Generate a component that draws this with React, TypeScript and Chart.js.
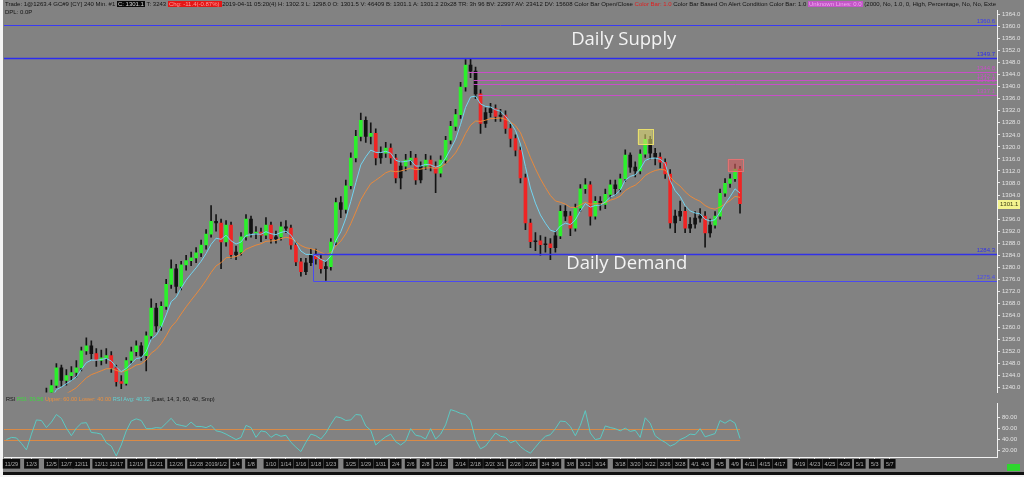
import React, { useEffect, useRef } from "react";
import { Chart, registerables } from "chart.js";

Chart.register(...registerables);

// ---------- data (240 min bars, one value per slot) ----------
const closes = [
  1233.0, 1231.5, 1232.4, 1230.8, 1233.2, 1235.1, 1232.9, 1234.6, 1237.5, 1240.7,
  1246.6, 1242.4, 1244.0, 1245.0, 1246.6, 1252.2, 1253.9, 1251.3, 1249.0, 1249.9,
  1250.6, 1246.6, 1242.0, 1241.4, 1249.0, 1251.9, 1253.9, 1250.6, 1257.2, 1266.4,
  1260.5, 1267.0, 1274.3, 1279.5, 1273.6, 1280.8, 1282.2, 1283.1, 1284.8, 1287.4,
  1291.0, 1295.3, 1294.7, 1288.4, 1294.0, 1284.2, 1285.0, 1290.1, 1296.0, 1291.4,
  1291.7, 1290.7, 1294.0, 1289.4, 1290.1, 1293.4, 1293.0, 1287.4, 1281.8, 1278.5,
  1281.5, 1284.2, 1282.8, 1279.5, 1280.2, 1288.4, 1301.5, 1299.2, 1307.1, 1316.3,
  1323.5, 1328.8, 1323.5, 1324.5, 1316.3, 1317.9, 1319.6, 1316.3, 1309.7, 1313.6,
  1315.6, 1316.3, 1309.0, 1313.6, 1315.6, 1313.6, 1311.3, 1315.6, 1322.2, 1326.8,
  1330.7, 1339.9, 1347.2, 1345.2, 1337.6, 1327.8, 1331.4, 1332.7, 1330.1, 1330.6,
  1326.1, 1322.8, 1318.9, 1309.7, 1294.7, 1288.5, 1288.8, 1287.5, 1287.8, 1286.5,
  1290.4, 1298.6, 1297.0, 1293.0, 1299.6, 1306.1, 1307.4, 1297.0, 1301.9, 1300.9,
  1304.2, 1307.4, 1306.1, 1309.4, 1317.3, 1313.3, 1312.0, 1317.6, 1322.5, 1317.9,
  1316.6, 1314.9, 1311.0, 1294.7, 1297.0, 1298.6, 1293.0, 1294.3, 1296.3, 1297.0,
  1291.4, 1294.0, 1297.0, 1304.6, 1307.9, 1309.4, 1312.6, 1301.1,
];

const highs = [
  1235.0, 1234.0, 1234.0, 1233.5, 1234.8, 1236.5, 1236.0, 1236.2, 1239.8, 1242.5,
  1248.0, 1247.5, 1246.0, 1247.0, 1249.0, 1253.5, 1256.5, 1255.5, 1253.0, 1252.5,
  1253.0, 1252.0, 1247.5, 1244.0, 1250.0, 1253.5, 1255.5, 1255.0, 1258.5, 1269.5,
  1268.0, 1268.5, 1276.0, 1282.5, 1281.0, 1282.0, 1284.0, 1285.0, 1286.5, 1289.0,
  1292.5, 1300.5, 1297.5, 1296.0, 1295.5, 1295.0, 1287.0, 1291.5, 1297.5, 1297.0,
  1293.5, 1293.0, 1296.5, 1295.0, 1292.0, 1295.0, 1295.5, 1294.0, 1288.5, 1283.0,
  1283.0, 1286.0, 1286.0, 1284.0, 1282.0, 1289.5, 1303.0, 1303.5, 1309.0, 1318.0,
  1325.5, 1331.2, 1330.0, 1328.0, 1326.0, 1320.0, 1321.5, 1321.0, 1317.5, 1315.0,
  1317.5, 1318.5, 1317.5, 1315.0, 1317.5, 1317.0, 1315.0, 1317.0, 1323.5, 1328.5,
  1332.5, 1341.5, 1349.0, 1349.2, 1346.5, 1339.0, 1333.0, 1334.5, 1334.0, 1332.5,
  1332.0, 1327.5, 1324.0, 1320.0, 1311.0, 1296.0, 1291.5, 1290.5, 1290.0, 1289.5,
  1292.0, 1300.5, 1300.5, 1298.5, 1301.0, 1307.5, 1309.5, 1308.5, 1303.5, 1303.5,
  1306.0, 1309.0, 1309.0, 1311.0, 1319.0, 1318.0, 1315.0, 1319.0, 1324.1, 1323.5,
  1319.5, 1318.0, 1316.0, 1312.5, 1299.0, 1302.0, 1300.0, 1296.5, 1298.5, 1299.5,
  1298.5, 1296.0, 1298.5, 1306.0, 1309.5, 1311.0, 1314.3, 1313.5,
];

const lows = [
  1231.0, 1229.8, 1230.5, 1229.0, 1230.0, 1232.5, 1231.8, 1232.0, 1233.8, 1236.5,
  1240.0, 1240.5, 1240.8, 1242.5, 1243.5, 1245.5, 1251.0, 1249.5, 1247.0, 1247.5,
  1248.0, 1245.0, 1240.5, 1239.6, 1240.8, 1248.0, 1250.5, 1249.0, 1245.5, 1256.0,
  1258.5, 1259.0, 1266.0, 1273.0, 1271.5, 1272.5, 1279.0, 1280.5, 1281.5, 1283.5,
  1286.0, 1290.0, 1292.0, 1279.5, 1287.0, 1283.0, 1282.5, 1284.0, 1289.0, 1290.0,
  1289.5, 1288.5, 1289.5, 1288.0, 1288.0, 1289.0, 1291.5, 1286.0, 1280.5, 1277.0,
  1277.5, 1280.5, 1281.0, 1278.0, 1275.6, 1279.0, 1287.5, 1296.5, 1298.0, 1306.0,
  1315.0, 1322.0, 1321.5, 1321.0, 1314.0, 1314.5, 1316.5, 1314.5, 1308.0, 1306.0,
  1312.0, 1314.0, 1307.5, 1308.0, 1312.5, 1312.0, 1304.8, 1310.0, 1314.5, 1321.0,
  1325.5, 1329.5, 1338.5, 1343.0, 1336.0, 1324.5, 1326.5, 1330.0, 1328.5, 1328.5,
  1324.5, 1320.0, 1317.0, 1308.0, 1292.5, 1286.5, 1285.5, 1284.0, 1285.0, 1282.5,
  1285.0, 1289.5, 1295.5, 1290.5, 1292.0, 1298.5, 1304.5, 1294.0, 1296.0, 1299.0,
  1299.5, 1303.0, 1304.0, 1305.0, 1308.5, 1311.5, 1310.0, 1311.0, 1316.5, 1316.0,
  1314.0, 1313.0, 1309.5, 1293.0, 1291.5, 1295.5, 1291.5, 1291.5, 1293.0, 1295.0,
  1286.7, 1290.0, 1293.0, 1296.0, 1303.5, 1306.5, 1308.5, 1298.0,
];

const rsiValues = [
  40, 44, 43, 33, 21, 50, 76, 75, 62, 72,
  86, 79, 61, 47, 61, 70, 71, 53, 52, 50,
  34, 28, 10, 30, 56, 74, 78, 75, 60, 60,
  62, 61, 70, 79, 68, 66, 64, 72, 64, 64,
  62, 66, 56, 54, 50, 45, 40, 44, 66, 62,
  44, 56, 54, 44, 50, 46, 48, 35, 26, 18,
  35, 50, 47, 41, 52, 68, 82, 80, 75, 76,
  86, 85, 65, 57, 30, 38, 45, 50, 36, 30,
  37, 60, 48, 46, 41, 60, 41, 50, 67, 95,
  92, 88, 86, 75, 40, 23, 28, 40, 52, 46,
  44, 34, 38, 27, 20, 15, 26, 37, 46, 49,
  60, 74, 73, 64, 47, 66, 93, 52, 40, 42,
  65, 62, 60, 56, 61, 55, 57, 44, 80, 70,
  47, 40, 35, 28, 32, 40, 44, 50, 49, 60,
  45, 48, 51, 75, 70, 76, 70, 42,
];

const dateLabels = [
  "11/29", "12/3", "12/5", "12/7", "12/11", "12/13", "12/17", "12/19", "12/21", "12/26",
  "12/28", "2019/1/2", "1/4", "1/8", "1/10", "1/14", "1/16", "1/18", "1/23", "1/25",
  "1/29", "1/31", "2/4", "2/6", "2/8", "2/12", "2/14", "2/18", "2/20", "3/1",
  "2/26", "2/28", "3/4", "3/6", "3/8", "3/12", "3/14", "3/18", "3/20", "3/22",
  "3/26", "3/28", "4/1", "4/3", "4/5", "4/9", "4/11", "4/15", "4/17", "4/19",
  "4/23", "4/25", "4/29", "5/1", "5/3", "5/7",
];
const dateSlots = [
  1, 5, 9, 12, 15, 19, 22, 26, 30, 34,
  38, 42, 46, 49, 53, 56, 59, 62, 65, 69,
  72, 75, 78, 81, 84, 87, 91, 94, 97, 99,
  102, 105, 108, 110, 113, 116, 119, 123, 126, 129,
  132, 135, 138, 140, 143, 146, 149, 152, 155, 159,
  162, 165, 168, 171, 174, 177,
];
const slotCount = 199;

const priceTicks = [
  1240, 1244, 1248, 1252, 1256, 1260, 1264, 1268, 1272, 1276, 1280, 1284, 1288, 1292, 1296, 1300,
  1304, 1308, 1312, 1316, 1320, 1324, 1328, 1332, 1336, 1340, 1344, 1348, 1352, 1356, 1360, 1364,
];
const rsiTicks = [20, 40, 60, 80];
const rsiBands = [60, 40];

// horizontal zone lines
const zonePrices = [1360.6, 1349.7, 1344.8, 1342.1, 1341.0, 1337.1, 1284.3, 1275.4];
const zoneStartBars = [0, 0, 93, 94, 94, 95, 62, 62];
const zoneKinds = ["supply", "supplyMain", "pivot", "pivot", "pivot", "pivot", "demandMain", "demand"];

// alert boxes
const alertStartBars = [127, 145];
const alertEndBars = [129, 147];
const alertTops = [1325.8, 1316.0];
const alertBottoms = [1320.9, 1312.0];
const alertKinds = ["high", "sell"];

// text annotations
const noteTexts = ["Daily Supply", "Daily Demand"];
const noteBars = [123.7, 124.3];
const notePrices = [1355.6, 1281.1];

const SMALL_FONT = '"Liberation Sans", Arial, sans-serif';
const BG = "#828282";

const zoneColors: Record<string, string> = {
  supply: "#3a3af4",
  supplyMain: "#2c2cf0",
  pivot: "#c84ec8",
  demandMain: "#3232e8",
  demand: "#4a4af0",
};
const zoneWidths: Record<string, number> = {
  supply: 1,
  supplyMain: 1.6,
  pivot: 1,
  demandMain: 1.4,
  demand: 1,
};
const alertFill: Record<string, string> = {
  high: "rgba(232,226,110,0.55)",
  sell: "rgba(214,92,92,0.6)",
};
const alertStroke: Record<string, string> = {
  high: "#e8de6c",
  sell: "#e27272",
};

function ema(values: number[], n: number): number[] {
  const k = 2 / (n + 1);
  const out: number[] = [];
  let prev = values[0];
  values.forEach((v, i) => {
    prev = i === 0 ? v : v * k + prev * (1 - k);
    out.push(prev);
  });
  return out;
}

export default function App() {
  const priceRef = useRef<HTMLCanvasElement>(null);
  const rsiRef = useRef<HTMLCanvasElement>(null);

  useEffect(() => {
    document.body.style.margin = "0";
    const slotLabels = Array.from({ length: slotCount }, (_, i) => {
      const k = dateSlots.indexOf(i);
      return k >= 0 ? dateLabels[k] : "";
    });
    const opens = closes.map((c, i) => (i === 0 ? c : closes[i - 1]));
    const fast = ema(closes, 6);
    const slow = ema(closes, 14);
    const bodyColors = closes.map((c, i) =>
      c > opens[i] && c >= fast[i] ? "#2cf02c" : c < opens[i] && c < fast[i] ? "#f02424" : "#121212"
    );
    const lastClose = closes[closes.length - 1];

    const priceOverlay = {
      id: "priceOverlay",
      afterDatasetsDraw(chart: any) {
        const { ctx, chartArea: a } = chart;
        const x = chart.scales.x;
        const y = chart.scales.y;
        const half = (x.getPixelForValue(1) - x.getPixelForValue(0)) / 2;
        ctx.save();
        ctx.lineWidth = 1;
        // alert boxes
        alertStartBars.forEach((s, k) => {
          const x0 = x.getPixelForValue(s) - half;
          const x1 = x.getPixelForValue(alertEndBars[k]) + half;
          const y0 = y.getPixelForValue(alertTops[k]);
          const y1 = y.getPixelForValue(alertBottoms[k]);
          ctx.fillStyle = alertFill[alertKinds[k]];
          ctx.fillRect(x0, y0, x1 - x0, y1 - y0);
          ctx.strokeStyle = alertStroke[alertKinds[k]];
          ctx.strokeRect(Math.round(x0) + 0.5, Math.round(y0) + 0.5, Math.round(x1 - x0), Math.round(y1 - y0));
        });
        // zone lines
        ctx.font = `6px ${SMALL_FONT}`;
        ctx.textAlign = "right";
        ctx.textBaseline = "bottom";
        const demandYs: number[] = [];
        let demandX = 0;
        zonePrices.forEach((p, k) => {
          const kind = zoneKinds[k];
          const py = Math.round(y.getPixelForValue(p)) + 0.5;
          const x0 = zoneStartBars[k] === 0 ? a.left : Math.round(x.getPixelForValue(zoneStartBars[k]) - half) + 0.5;
          const col = zoneColors[kind];
          ctx.strokeStyle = col;
          ctx.lineWidth = zoneWidths[kind];
          ctx.beginPath();
          ctx.moveTo(x0, py);
          ctx.lineTo(a.right, py);
          ctx.stroke();
          ctx.fillStyle = col;
          ctx.fillText(p.toFixed(1), a.right - 2, py - 1.5);
          if (kind.startsWith("demand")) {
            demandYs.push(py);
            demandX = x0;
          }
        });
        if (demandYs.length === 2) {
          ctx.strokeStyle = zoneColors.demand;
          ctx.lineWidth = 1;
          ctx.beginPath();
          ctx.moveTo(demandX, demandYs[0]);
          ctx.lineTo(demandX, demandYs[1]);
          ctx.stroke();
        }
        // notes
        ctx.font = '18.5px "Open Sans", "Noto Sans", sans-serif';
        ctx.fillStyle = "#f3f3f3";
        ctx.textAlign = "center";
        ctx.textBaseline = "middle";
        noteTexts.forEach((t, k) => {
          ctx.fillText(t, x.getPixelForValue(noteBars[k]), y.getPixelForValue(notePrices[k]));
        });
        ctx.restore();
      },
      afterDraw(chart: any) {
        const { ctx, chartArea: a } = chart;
        const y = chart.scales.y;
        const py = y.getPixelForValue(lastClose);
        ctx.save();
        ctx.fillStyle = "#f4f48e";
        ctx.fillRect(a.right + 1, Math.round(py) - 4, 22, 9);
        ctx.fillStyle = "#3a3a14";
        ctx.font = `6px ${SMALL_FONT}`;
        ctx.textAlign = "left";
        ctx.textBaseline = "middle";
        ctx.fillText(lastClose.toFixed(1), a.right + 3, Math.round(py) + 0.5);
        ctx.restore();
      },
    };

    const priceChart = new Chart(priceRef.current as HTMLCanvasElement, {
      type: "bar",
      data: {
        labels: slotLabels,
        datasets: [
          {
            type: "line",
            data: fast,
            borderColor: "#72d4f0",
            borderWidth: 1,
            pointRadius: 0,
            order: 0,
          } as any,
          {
            type: "line",
            data: slow,
            borderColor: "#e8893c",
            borderWidth: 1,
            pointRadius: 0,
            order: 1,
          } as any,
          {
            type: "bar",
            data: closes.map((c, i) => [opens[i], c]),
            backgroundColor: bodyColors,
            barThickness: 3,
            grouped: false,
            borderWidth: 0,
            order: 2,
          } as any,
          {
            type: "bar",
            data: highs.map((h, i) => [lows[i], h]),
            backgroundColor: "#141414",
            barThickness: 1,
            grouped: false,
            borderWidth: 0,
            order: 3,
          } as any,
        ],
      },
      options: {
        animation: false,
        responsive: false,
        maintainAspectRatio: false,
        devicePixelRatio: 1,
        events: [],
        layout: { padding: { left: 4, top: 10, right: 0, bottom: 1 } },
        plugins: { legend: { display: false }, tooltip: { enabled: false } },
        scales: {
          x: { type: "category", offset: true, display: false },
          y: {
            position: "right",
            min: 1238.4,
            max: 1365.5,
            afterFit: (s: any) => {
              s.width = 27;
            },
            afterBuildTicks: (s: any) => {
              s.ticks = priceTicks.map((v) => ({ value: v }));
            },
            ticks: {
              autoSkip: false,
              color: "#e4e4e4",
              padding: 2,
              font: { family: SMALL_FONT, size: 6 },
              callback: (v: any) => Number(v).toFixed(1),
            },
            grid: { drawOnChartArea: false, color: "#e8e8e8", tickLength: 3 },
            border: { color: "#f2f2f2", width: 1 },
          },
        },
      } as any,
      plugins: [priceOverlay],
    });

    const rsiOverlay = {
      id: "rsiOverlay",
      beforeDatasetsDraw(chart: any) {
        const { ctx, chartArea: a } = chart;
        const x = chart.scales.x;
        const y = chart.scales.y;
        const xEnd = x.getPixelForValue(rsiValues.length - 1);
        ctx.save();
        ctx.strokeStyle = "#d98a46";
        ctx.lineWidth = 1;
        rsiBands.forEach((v) => {
          const py = Math.round(y.getPixelForValue(v)) + 0.5;
          ctx.beginPath();
          ctx.moveTo(a.left, py);
          ctx.lineTo(xEnd, py);
          ctx.stroke();
        });
        ctx.restore();
      },
    };

    const rsiChart = new Chart(rsiRef.current as HTMLCanvasElement, {
      type: "line",
      data: {
        labels: slotLabels,
        datasets: [
          {
            data: rsiValues,
            borderColor: "#5cc9c2",
            borderWidth: 1,
            pointRadius: 0,
          },
        ],
      },
      options: {
        animation: false,
        responsive: false,
        maintainAspectRatio: false,
        devicePixelRatio: 1,
        events: [],
        layout: { padding: { left: 4, top: 2, right: 0, bottom: 0 } },
        plugins: { legend: { display: false }, tooltip: { enabled: false } },
        scales: {
          x: {
            type: "category",
            offset: true,
            afterFit: (s: any) => {
              s.height = 20;
            },
            afterBuildTicks: (s: any) => {
              s.ticks = dateSlots.map((v) => ({ value: v }));
            },
            ticks: {
              autoSkip: false,
              maxRotation: 0,
              minRotation: 0,
              padding: 1,
              color: "#aeaeae",
              font: { family: SMALL_FONT, size: 5.5 },
              showLabelBackdrop: true,
              backdropColor: "#0c0c0c",
              backdropPadding: { top: 2, bottom: 1, left: 2, right: 2 },
            },
            grid: { drawOnChartArea: false, color: "#d8d8d8", tickLength: 3 },
            border: { color: "#f2f2f2", width: 1 },
          },
          y: {
            position: "right",
            min: 8,
            max: 106,
            afterFit: (s: any) => {
              s.width = 27;
            },
            afterBuildTicks: (s: any) => {
              s.ticks = rsiTicks.map((v) => ({ value: v }));
            },
            ticks: {
              autoSkip: false,
              color: "#e4e4e4",
              padding: 2,
              font: { family: SMALL_FONT, size: 6 },
              callback: (v: any) => Number(v).toFixed(2),
            },
            grid: { drawOnChartArea: false, color: "#e8e8e8", tickLength: 3 },
            border: { color: "#f2f2f2", width: 1 },
          },
        },
      } as any,
      plugins: [rsiOverlay],
    });

    return () => {
      priceChart.destroy();
      rsiChart.destroy();
    };
  }, []);

  const tiny: React.CSSProperties = {
    position: "absolute",
    whiteSpace: "nowrap",
    overflow: "hidden",
    fontFamily: SMALL_FONT,
    color: "#141414",
  };

  return (
    <div
      style={{
        position: "fixed",
        left: 0,
        top: 0,
        width: 1024,
        height: 477,
        background: "#f4f4f4",
        overflow: "hidden",
      }}
    >
      <div style={{ position: "absolute", left: 3, top: 0, width: 1021, height: 472, background: BG }} />
      <canvas
        ref={priceRef}
        width={1024}
        height={398}
        style={{ position: "absolute", left: 0, top: 0, display: "block" }}
      />
      <canvas
        ref={rsiRef}
        width={1024}
        height={79}
        style={{ position: "absolute", left: 0, top: 398, display: "block" }}
      />
      <div style={{ ...tiny, left: 5, top: 1, width: 991, fontSize: 6.0, lineHeight: "7px" }}>
        {"Trade: 1@1263.4  GC#9 [CY]  240 Min.  #1 "}
        <span style={{ background: "#0a0a0a", color: "#d8d8d8", padding: "0 1px" }}>C: 1301.1</span>
        {" T: 3243 "}
        <span style={{ background: "#e41616", color: "#ff9c9c", padding: "0 1px" }}>Chg: -11.4(-0.87%) </span>
        {" 2019-04-11 05:20(4) H: 1302.3  L: 1298.0  O: 1301.5  V: 46409  B: 1301.1  A: 1301.2  20x28  TR: 3h 96  BV: 22997  AV: 23412  DV: 15608  Color Bar Open/Close  "}
        <span style={{ color: "#e02020" }}>Color Bar: 1.0</span>
        {"  Color Bar Based On Alert Condition  Color Bar: 1.0  "}
        <span style={{ background: "#c456c8", color: "#f2a8f2", padding: "0 1px" }}>Unknown Lines: 0.0</span>
        {"  (2000, No, 1.0, 0, High, Percentage, No, No, Extensions)"}
      </div>
      <div style={{ ...tiny, left: 5, top: 9, fontSize: 6.0, lineHeight: "7px" }}>DPL: 0.0P</div>
      <div style={{ ...tiny, left: 6, top: 396, fontSize: 5.6, lineHeight: "7px" }}>
        {"RSI  "}
        <span style={{ color: "#3cdc3c" }}>RSI: 39.56 </span>
        <span style={{ color: "#ea9040" }}>Upper: 60.00 </span>
        <span style={{ color: "#ea9040" }}>Lower: 40.00 </span>
        <span style={{ color: "#62d2d2" }}>RSI Avg: 40.32 </span>
        {"  (Last, 14, 3, 60, 40, Smp)"}
      </div>
      <div style={{ position: "absolute", left: 1007, top: 464, width: 13, height: 7, background: "#2ed62e" }} />
      <div style={{ position: "absolute", left: 3, top: 472, width: 1021, height: 3, background: "#111" }} />
    </div>
  );
}
